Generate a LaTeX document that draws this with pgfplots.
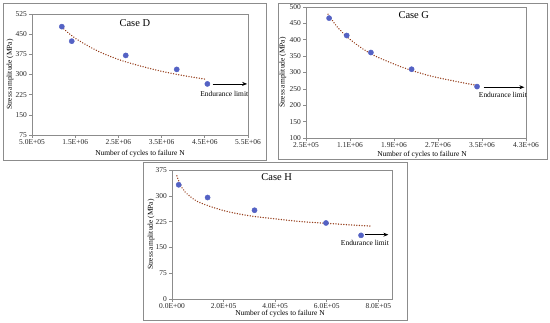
\documentclass[border=0pt]{standalone}
\usepackage{pgfplots}
\pgfplotsset{compat=1.18}
\usetikzlibrary{arrows.meta}
\usepackage{fontspec}
\setmainfont{Liberation Serif}
\definecolor{mk}{RGB}{84,98,196}
\definecolor{tr}{RGB}{150,62,28}
\definecolor{fr}{RGB}{140,140,140}
\definecolor{ax}{RGB}{140,140,140}
\tikzset{
  ttl/.style={font=\fontsize{10.5}{12}\selectfont},
  el/.style={font=\fontsize{7.5}{8}\selectfont, inner sep=0pt},
}
\pgfplotsset{
  panel/.style={
    scale only axis,
    axis line style={ax, line width=0.6pt},
    tick style={ax, line width=0.6pt},
    major tick length=3bp,
    tick align=outside,
    xtick pos=bottom, ytick pos=left,
    scaled x ticks=false, scaled y ticks=false,
    /pgf/number format/assume math mode=true,
    ticklabel style={font=\fontsize{7.5}{8}\selectfont, text=black!85},
    xticklabel style={inner sep=1.5bp},
    yticklabel style={inner sep=2bp},
    label style={font=\fontsize{7.5}{8}\selectfont, inner sep=0pt},
    clip=false,
  },
  pts/.style={only marks, mark=*, mark size=2.6bp, mark options={fill=mk, draw=mk}},
  trend/.style={no marks, tr, line width=1.5bp, line cap=round, dash pattern=on 0.01pt off 2.6bp, smooth},
  endur/.style={no marks, black, line width=0.8pt, -{Stealth[length=5bp,width=4bp]}},
}
\begin{document}
\begin{tikzpicture}
\path[use as bounding box] (0,0) rectangle (550bp,-323bp);
% frames
\draw[fr, line width=0.8pt] (3bp,-3bp) rectangle (266bp,-160bp);
\draw[fr, line width=0.8pt] (278bp,-3bp) rectangle (547bp,-159bp);
\draw[fr, line width=0.8pt] (143bp,-162bp) rectangle (407bp,-320bp);

% ---------------- Case D
\begin{axis}[panel,
  at={(32bp,-135bp)}, anchor=south west,
  width=216bp, height=121bp,
  xmin=5e5, xmax=5.5e6, ymin=75, ymax=525,
  xtick={5e5,1.5e6,2.5e6,3.5e6,4.5e6,5.5e6},
  xticklabels={5.0E+05,1.5E+06,2.5E+06,3.5E+06,4.5E+06,5.5E+06},
  ytick={75,150,225,300,375,450,525},
  xlabel={Number of cycles to failure N},
  ylabel={Stress amplitude (MPa)},
  xlabel style={at={(axis description cs:0.5,0)}, anchor=center, yshift=-19bp},
  ylabel style={at={(axis description cs:-0.102,0.5)}, anchor=center},
]
\addplot[trend] coordinates {(1.19e6,476) (1.5e6,435) (2.0e6,389) (2.5e6,356) (3.0e6,332) (3.5e6,312) (4.0e6,296) (4.5e6,283)};
\addplot[pts] coordinates {(1.19e6,478) (1.42e6,424) (2.67e6,371) (3.85e6,319) (4.56e6,265)};
\addplot[endur] coordinates {(4.68e6,265) (5.48e6,265)};
\node[ttl] at (axis cs:2.88e6,490) {Case D};
\node[el] at (axis cs:4.95e6,226) {Endurance limit};
\end{axis}

% ---------------- Case G
\begin{axis}[panel,
  at={(306bp,-138bp)}, anchor=south west,
  width=220bp, height=131bp,
  xmin=2.5e5, xmax=4.25e6, ymin=100, ymax=500,
  xtick={2.5e5,1.05e6,1.85e6,2.65e6,3.45e6,4.25e6},
  xticklabels={2.5E+05,1.1E+06,1.9E+06,2.7E+06,3.5E+06,4.3E+06},
  ytick={100,150,200,250,300,350,400,450,500},
  xlabel={Number of cycles to failure N},
  ylabel={Stress amplitude (MPa)},
  xlabel style={at={(axis description cs:0.5,0)}, anchor=center, yshift=-17bp, xshift=6bp},
  ylabel style={at={(axis description cs:-0.105,0.5)}, anchor=center},
]
\addplot[trend] coordinates {(6.5e5,478) (8e5,443) (1.0e6,408) (1.25e6,376) (1.5e6,351) (2.0e6,316) (2.5e6,290) (3.0e6,272) (3.38e6,260)};
\addplot[pts] coordinates {(6.7e5,466) (9.9e5,413) (1.43e6,361) (2.17e6,310) (3.36e6,257)};
\addplot[endur] coordinates {(3.48e6,255) (4.22e6,255)};
\node[ttl] at (axis cs:2.21e6,476) {Case G};
\node[el] at (axis cs:3.83e6,232) {Endurance limit};
\end{axis}

% ---------------- Case H
\begin{axis}[panel,
  at={(172bp,-299bp)}, anchor=south west,
  width=220bp, height=129bp,
  xmin=0, xmax=8.53e5, ymin=0, ymax=375,
  xtick={0,2e5,4e5,6e5,8e5},
  xticklabels={0.0E+00,2.0E+05,4.0E+05,6.0E+05,8.0E+05},
  ytick={0,75,150,225,300,375},
  xlabel={Number of cycles to failure N},
  ylabel={Stress amplitude (MPa)},
  xlabel style={at={(axis description cs:0.5,0)}, anchor=center, yshift=-15bp, xshift=-2bp},
  ylabel style={at={(axis description cs:-0.095,0.5)}, anchor=center},
]
\addplot[trend] coordinates {(1.9e4,358) (3e4,336) (5e4,312) (1e5,283) (2e5,257) (3e5,242) (4e5,233) (5e5,225) (6e5,220) (7e5,215) (7.68e5,212)};
\addplot[pts] coordinates {(2.6e4,332) (1.38e5,295) (3.2e5,258) (5.97e5,221) (7.33e5,185)};
\addplot[endur] coordinates {(7.5e5,187) (8.39e5,187)};
\node[ttl] at (axis cs:4.06e5,354) {Case H};
\node[el] at (axis cs:7.48e5,163) {Endurance limit};
\end{axis}
\end{tikzpicture}
\end{document}
